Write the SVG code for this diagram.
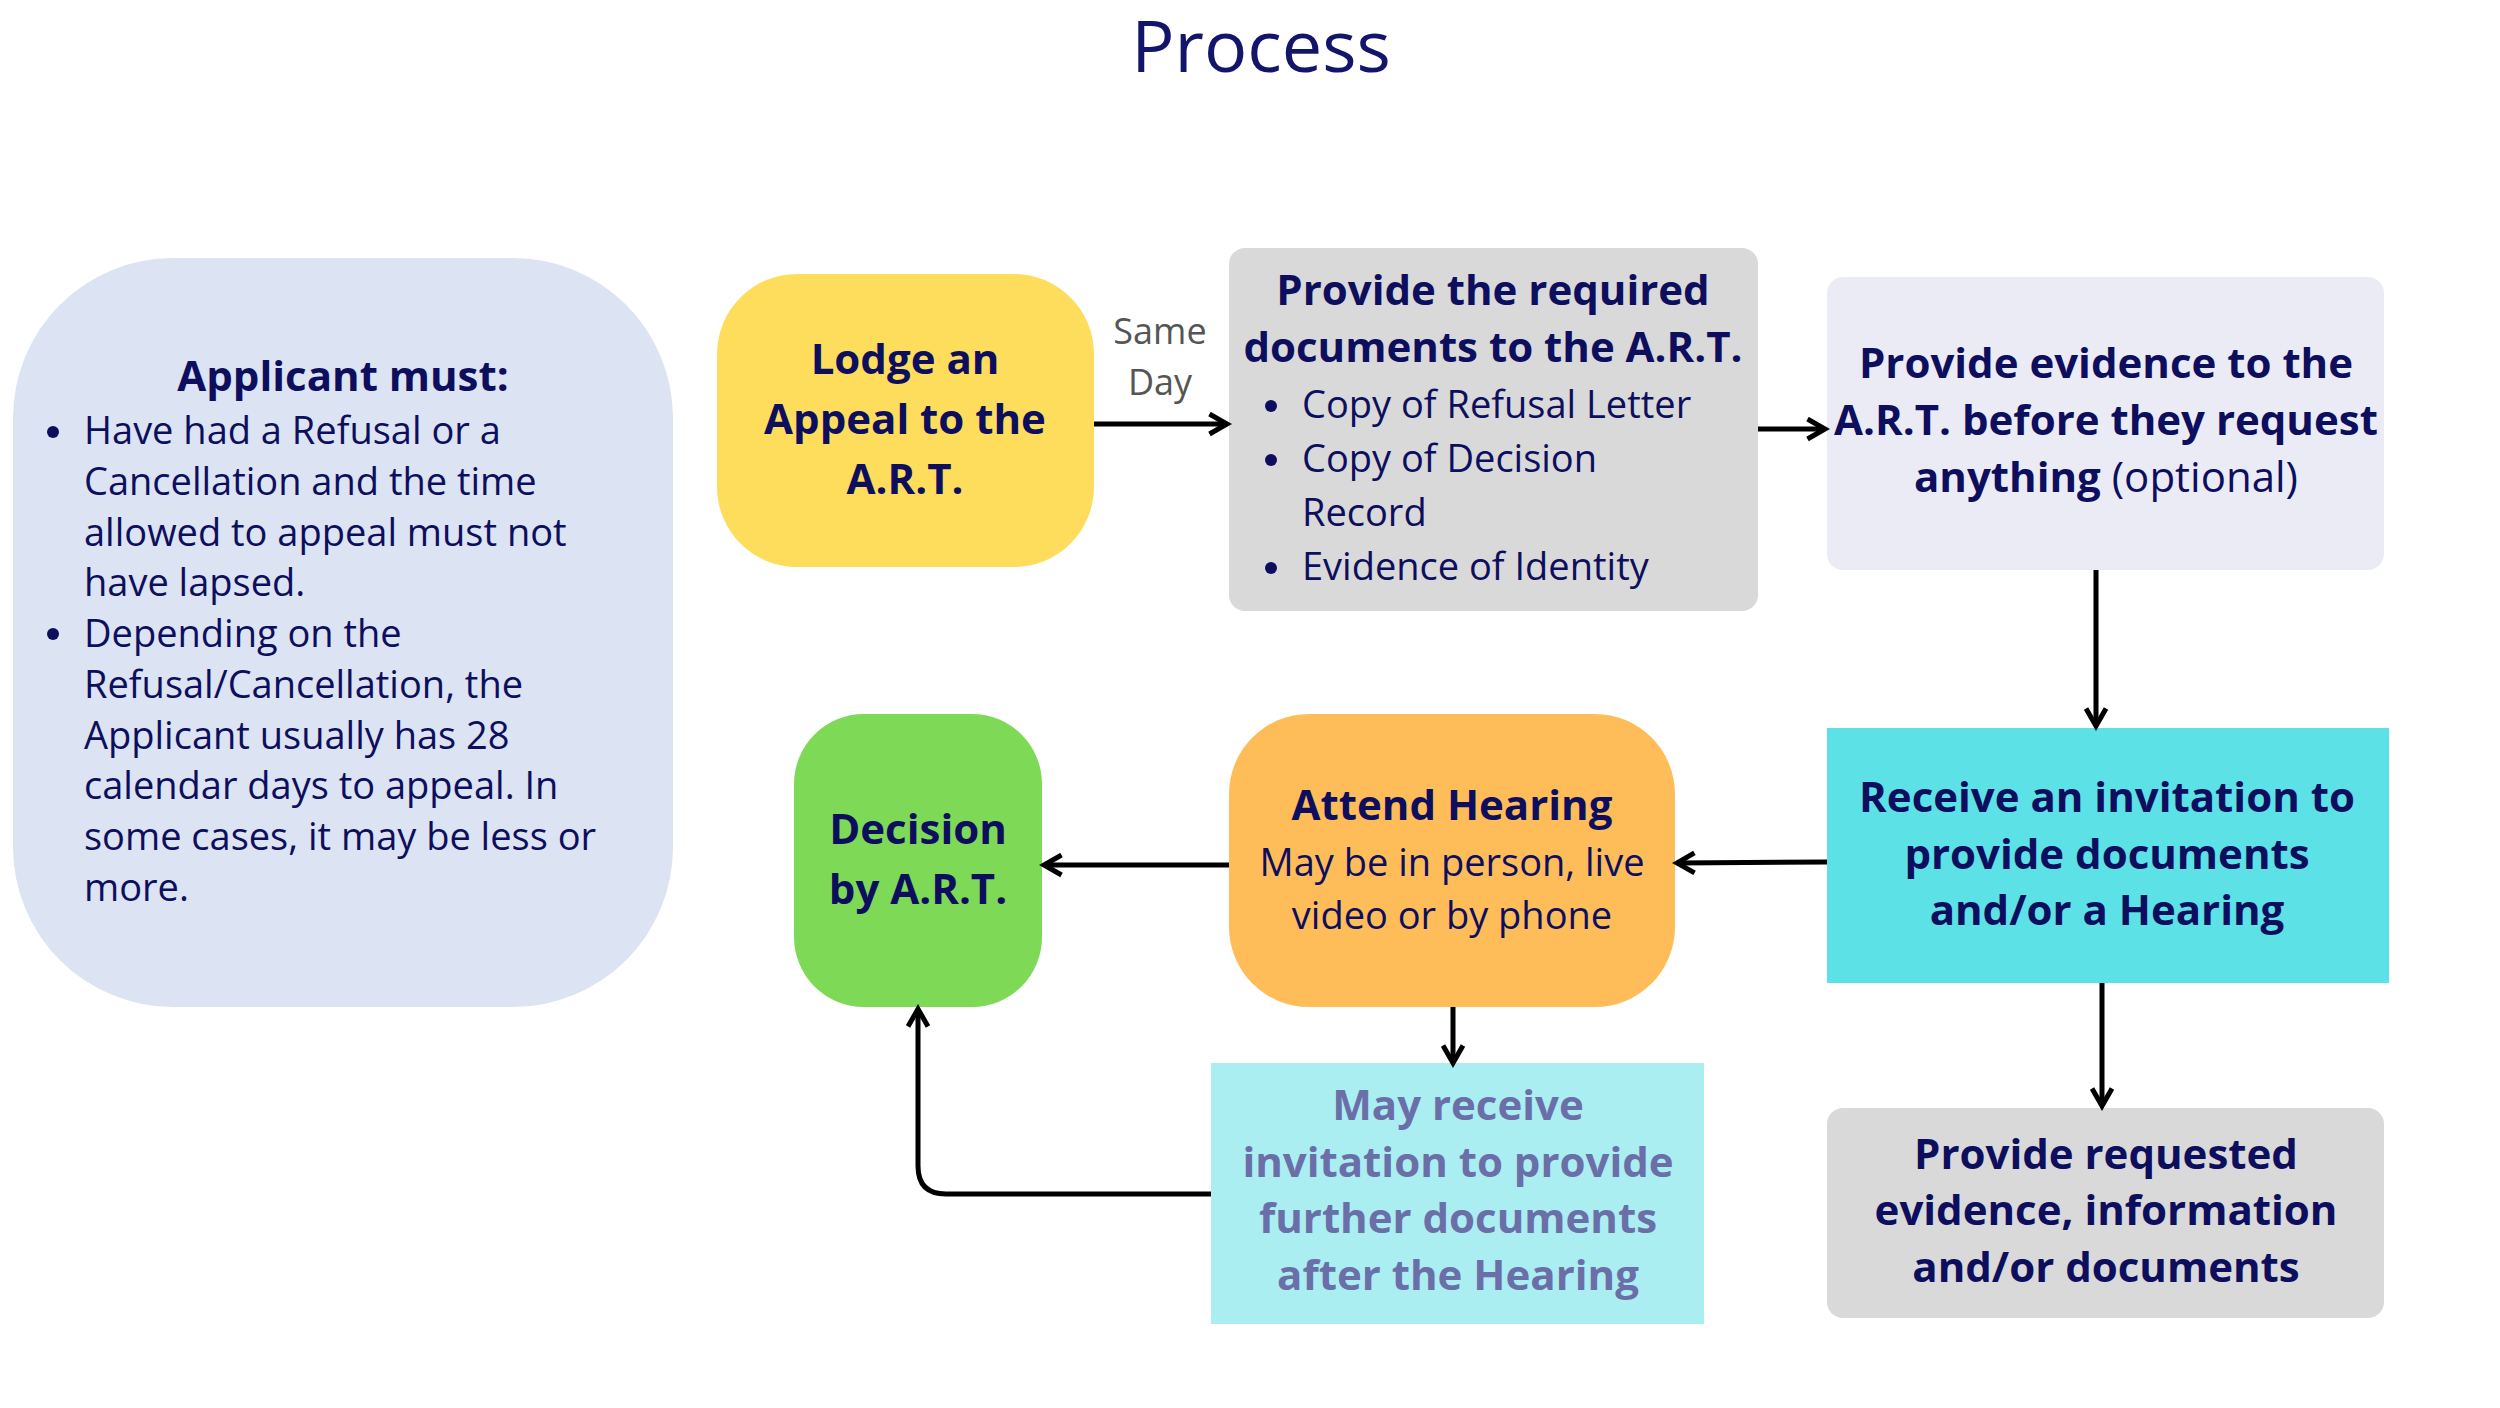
<svg xmlns="http://www.w3.org/2000/svg" width="2500" height="1408" viewBox="0 0 2500 1408">
<style>
text{font-family:"Open Sans","Liberation Sans",sans-serif;fill:#0d0f5e}
.b{font-weight:700;font-size:42px}
.r{font-size:38px}
.c{text-anchor:middle}
.m{fill:#6b6fa8}
.g{fill:#555;font-size:36px}
.conn{fill:none;stroke:#000;stroke-width:5;marker-end:url(#ah)}
</style>
<defs>
<marker id="ah" viewBox="0 0 10 10" refX="8" refY="5" markerWidth="5" markerHeight="5" orient="auto" markerUnits="strokeWidth">
<path d="M1,1 L8,5 L1,9" fill="none" stroke="#000" stroke-width="2"/>
</marker>
</defs>
<rect width="2500" height="1408" fill="#fff"/>
<text x="1261" y="72" class="c" style="font-size:72px;fill:#13156b">Process</text>
<g id="applicant">
<rect x="13" y="258" width="660" height="749" rx="160" fill="#dce3f2"/>
<text x="343" y="391" class="b c">Applicant must:</text>
<g class="r">
<circle cx="53" cy="432" r="6" fill="#0d0f5e"/><circle cx="53" cy="634" r="6" fill="#0d0f5e"/>
<text x="84" y="444" class="r">Have had a Refusal or a</text>
<text x="84" y="495" class="r">Cancellation and the time</text>
<text x="84" y="546" class="r">allowed to appeal must not</text>
<text x="84" y="596" class="r">have lapsed.</text>
<text x="84" y="647" class="r">Depending on the</text>
<text x="84" y="698" class="r">Refusal/Cancellation, the</text>
<text x="84" y="749" class="r">Applicant usually has 28</text>
<text x="84" y="799" class="r">calendar days to appeal. In</text>
<text x="84" y="850" class="r">some cases, it may be less or</text>
<text x="84" y="901" class="r">more.</text>
</g>
</g>
<g id="lodge">
<rect x="717" y="274" width="377" height="293" rx="80" fill="#fedd5d"/>
<text x="905" y="374" class="b c">Lodge an</text>
<text x="905" y="434" class="b c">Appeal to the</text>
<text x="905" y="494" class="b c">A.R.T.</text>
</g>
<g id="docs">
<rect x="1229" y="248" width="529" height="363" rx="16" fill="#d9d9d9"/>
<text x="1493" y="305" class="b c">Provide the required</text>
<text x="1493" y="362" class="b c">documents to the A.R.T.</text>
<circle cx="1271" cy="406" r="6" fill="#0d0f5e"/><circle cx="1271" cy="460" r="6" fill="#0d0f5e"/><circle cx="1271" cy="568" r="6" fill="#0d0f5e"/>
<text x="1302" y="418" class="r">Copy of Refusal Letter</text>
<text x="1302" y="472" class="r">Copy of Decision</text>
<text x="1302" y="526" class="r">Record</text>
<text x="1302" y="580" class="r">Evidence of Identity</text>
</g>
<g id="evidence">
<rect x="1827" y="277" width="557" height="293" rx="16" fill="#ebebf5"/>
<text x="2106" y="378" class="b c">Provide evidence to the</text>
<text x="2106" y="435" class="b c">A.R.T. before they request</text>
<text x="2106" y="492" class="b c">anything <tspan style="font-weight:400">(optional)</tspan></text>
</g>
<g id="receive">
<rect x="1827" y="728" width="562" height="255" fill="#5ce1e6"/>
<text x="2107" y="812" class="b c">Receive an invitation to</text>
<text x="2107" y="869" class="b c">provide documents</text>
<text x="2107" y="925" class="b c">and/or a Hearing</text>
</g>
<g id="requested">
<rect x="1827" y="1108" width="557" height="210" rx="16" fill="#d9d9d9"/>
<text x="2106" y="1169" class="b c">Provide requested</text>
<text x="2106" y="1225" class="b c">evidence, information</text>
<text x="2106" y="1282" class="b c">and/or documents</text>
</g>
<g id="attend">
<rect x="1229" y="714" width="446" height="293" rx="80" fill="#ffbd59"/>
<text x="1452" y="820" class="b c">Attend Hearing</text>
<text x="1452" y="876" class="r c">May be in person, live</text>
<text x="1452" y="929" class="r c">video or by phone</text>
</g>
<g id="decision">
<rect x="794" y="714" width="248" height="293" rx="70" fill="#7ed957"/>
<text x="918" y="844" class="b c">Decision</text>
<text x="918" y="904" class="b c">by A.R.T.</text>
</g>
<g id="further">
<rect x="1211" y="1063" width="493" height="261" fill="#aaeef2"/>
<text x="1458" y="1120" class="b c m">May receive</text>
<text x="1458" y="1177" class="b c m">invitation to provide</text>
<text x="1458" y="1233" class="b c m">further documents</text>
<text x="1458" y="1290" class="b c m">after the Hearing</text>
</g>
<g id="connectors">
<text x="1160" y="344" class="g c">Same</text>
<text x="1160" y="395" class="g c">Day</text>
<path class="conn" d="M1094,424 H1227"/>
<path class="conn" d="M1758,429 H1825"/>
<path class="conn" d="M2096,570 V726"/>
<path class="conn" d="M2102,983 V1106"/>
<path class="conn" d="M1827,862 L1677,863"/>
<path class="conn" d="M1229,865 H1044"/>
<path class="conn" d="M1453,1007 V1063"/>
<path class="conn" d="M1211,1194 H946 Q918,1194 918,1166 V1009"/>
</g>
</svg>
